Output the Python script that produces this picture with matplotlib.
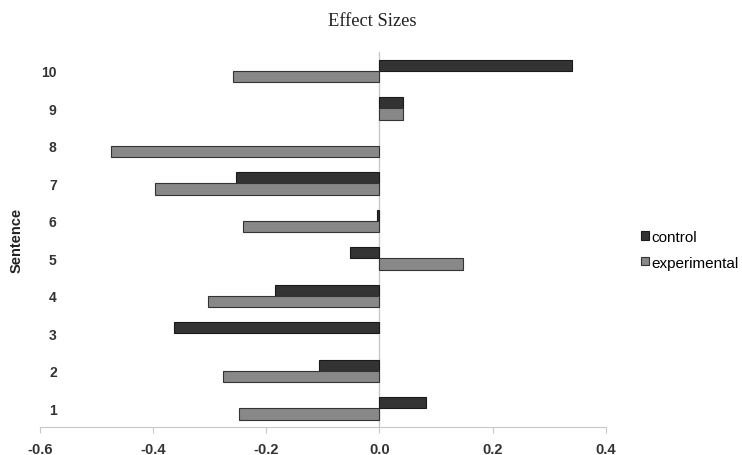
import numpy as np
import matplotlib
matplotlib.use("Agg")
import matplotlib.pyplot as plt

plt.rcParams['font.family'] = ['Liberation Sans', 'DejaVu Sans']

sentences = [1, 2, 3, 4, 5, 6, 7, 8, 9, 10]
# nan = no bar shown for that sentence
control = [0.082, -0.106, -0.364, -0.185, -0.052, -0.004, -0.253, np.nan, 0.041, 0.341]
experimental = [-0.248, -0.277, np.nan, -0.303, 0.148, -0.241, -0.396, -0.475, 0.041, -0.259]
xticks = [-0.6, -0.4, -0.2, 0.0, 0.2, 0.4]

fig = plt.figure(figsize=(7.42, 4.56), dpi=100)
ax = fig.add_axes([40 / 742, 1 - 428 / 456, (605.7 - 40) / 742, (428 - 53) / 456])

y = np.arange(len(sentences)) + 1
h = 0.3
ax.barh(y + h / 2, control, height=h, color='#333333', edgecolor='#1a1a1a',
        linewidth=0.8, label='control')
ax.barh(y - h / 2, experimental, height=h, color='#888888', edgecolor='#333333',
        linewidth=0.8, label='experimental')

ax.axvline(0, color='#c8c8c8', linewidth=1, zorder=0)

ax.set_xlim(-0.6, 0.4)
ax.set_ylim(0.5, 10.5)
ax.set_xticks(xticks)
ax.set_xticklabels(['%.1f' % v for v in xticks], fontweight='bold')
ax.set_yticks(y)
ax.set_yticklabels([str(s) for s in sentences], fontweight='bold')

for s in ['top', 'right', 'left']:
    ax.spines[s].set_visible(False)
ax.spines['bottom'].set_color('#c8c8c8')
ax.tick_params(axis='x', colors='#c8c8c8', length=4, pad=7, labelsize=10.5,
               labelcolor='#333333')
ax.tick_params(axis='y', length=0, pad=-12, labelsize=10, labelcolor='#333333')

ax.set_ylabel('Sentence', fontweight='bold', fontsize=10.5, labelpad=12,
              color='#222222')
fig.text(372 / 742, 1 - 22 / 456, 'Effect Sizes', family=['Liberation Serif'],
         fontsize=13.3, ha='center', va='center', color='#222222')

ax.legend(loc='center left', bbox_to_anchor=(1.038, 0.473), frameon=False,
          fontsize=11, handlelength=0.5, handleheight=0.5, handletextpad=0.2,
          labelspacing=0.77)

fig.savefig('out.png', dpi=100)
